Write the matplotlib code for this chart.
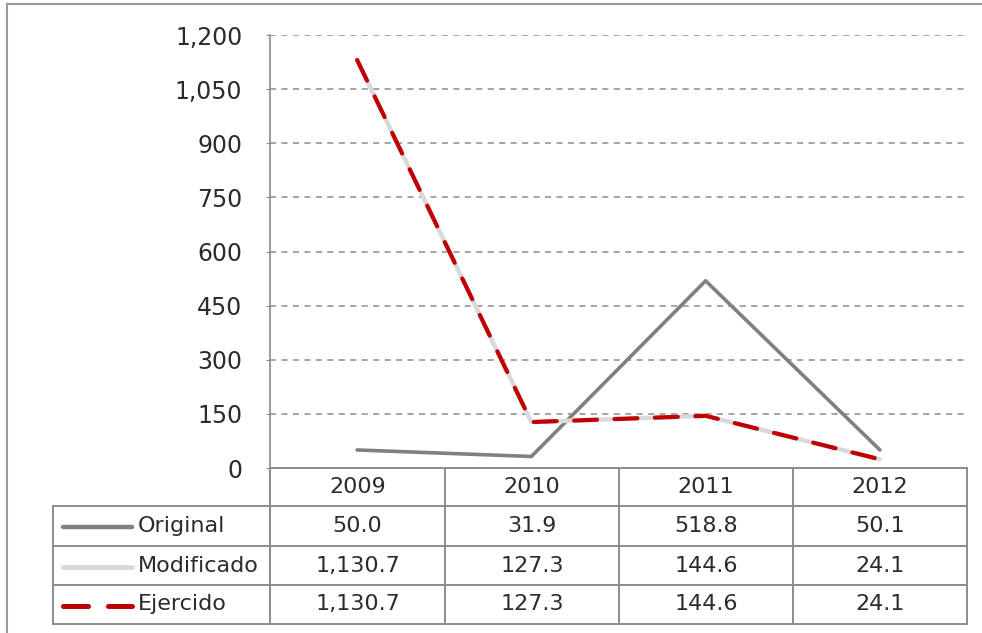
import matplotlib.pyplot as plt
from matplotlib.lines import Line2D

plt.rcParams["font.family"] = ["DejaVu Sans"]

years = ["2009", "2010", "2011", "2012"]
original = [50.0, 31.9, 518.8, 50.1]
modificado = [1130.7, 127.3, 144.6, 24.1]
ejercido = [1130.7, 127.3, 144.6, 24.1]

series_names = ["Original", "Modificado", "Ejercido"]
y_ticks = [0, 150, 300, 450, 600, 750, 900, 1050, 1200]

W, H = 982, 633
GRID = "#8c8c8c"
TXT = "#2b2b2b"


def fx(px):
    return px / W


def fy(py):
    return 1 - py / H


fig = plt.figure(figsize=(W / 100, H / 100), dpi=100)

# outer frame (top and left edges visible)
fig.add_artist(Line2D([fx(7), fx(7)], [fy(4), 0], color="#9a9a9a", lw=1.5))
fig.add_artist(Line2D([fx(7), 1], [fy(4), fy(4)], color="#9a9a9a", lw=1.5))

left, right, top, bottom = 270, 967, 35, 468
ax = fig.add_axes([fx(left), fy(bottom), fx(right - left), fy(top) - fy(bottom)])

x = list(range(len(years)))
ax.plot(x, original, color="#808080", lw=2.6, solid_capstyle="round", zorder=3)
ax.plot(x, modificado, color="#d9d9d9", lw=3.2, solid_capstyle="round", zorder=4)
ax.plot(x, ejercido, color="#c00000", lw=3.0, dashes=(5.5, 4.2),
        dash_capstyle="round", zorder=5)

ax.set_xlim(-0.5, 3.5)
ax.set_ylim(0, 1200)
ax.set_yticks(y_ticks)
ax.set_yticklabels([f"{v:,}" for v in y_ticks], fontsize=17, color=TXT)
ax.set_xticks([])
ax.tick_params(axis="y", length=3, color=GRID, pad=17)
for s in ["top", "right", "bottom"]:
    ax.spines[s].set_visible(False)
ax.spines["left"].set_color(GRID)
ax.spines["left"].set_linewidth(1.2)
for v in y_ticks[1:]:
    ax.axhline(v, color=GRID, lw=1.1, dashes=(4, 3.5), zorder=1)

# data table below the plot
row_edges = [468, 506, 546, 585, 624]
col_edges = [270, 445, 619, 793, 967]
leg_left = 53
tkw = dict(color=GRID, lw=1.4)

fig.add_artist(Line2D([fx(270), fx(967)], [fy(468), fy(468)], **tkw))
for r in row_edges[1:]:
    fig.add_artist(Line2D([fx(leg_left), fx(967)], [fy(r), fy(r)], **tkw))
for c in col_edges:
    fig.add_artist(Line2D([fx(c), fx(c)], [fy(468), fy(624)], **tkw))
fig.add_artist(Line2D([fx(leg_left), fx(leg_left)], [fy(506), fy(624)], **tkw))

cell_fs = 16
for i, yr in enumerate(years):
    cx = (col_edges[i] + col_edges[i + 1]) / 2
    cy = (row_edges[0] + row_edges[1]) / 2
    fig.text(fx(cx), fy(cy), yr, ha="center", va="center", fontsize=cell_fs, color=TXT)

all_series = [original, modificado, ejercido]
styles = [
    dict(color="#808080", lw=3.2, solid_capstyle="round"),
    dict(color="#d9d9d9", lw=3.6, solid_capstyle="round"),
    dict(color="#c00000", lw=3.6, dashes=(5.0, 4.0), dash_capstyle="round"),
]
for j, (name, vals, st) in enumerate(zip(series_names, all_series, styles)):
    cy = (row_edges[j + 1] + row_edges[j + 2]) / 2
    fig.add_artist(Line2D([fx(63), fx(132)], [fy(cy + 1), fy(cy + 1)], **st))
    fig.text(fx(138), fy(cy), name, ha="left", va="center", fontsize=cell_fs, color=TXT)
    for i, v in enumerate(vals):
        cx = (col_edges[i] + col_edges[i + 1]) / 2
        fig.text(fx(cx), fy(cy), f"{v:,.1f}", ha="center", va="center",
                 fontsize=cell_fs, color=TXT)

fig.savefig("out.png", dpi=100)
